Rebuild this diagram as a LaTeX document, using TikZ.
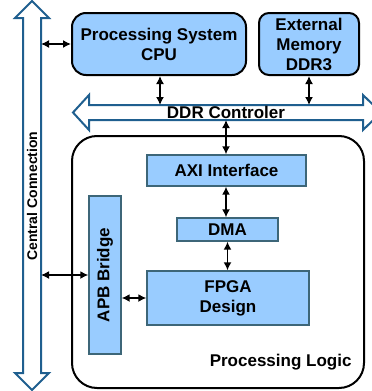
\documentclass[tikz,border=0pt]{standalone}
\usepackage{fontspec}
\setmainfont{Liberation Sans}
\usepackage{xcolor}
\usetikzlibrary{arrows.meta}
\definecolor{boxblue}{HTML}{99CCFF}
\definecolor{busblue}{HTML}{1F5F8F}
\definecolor{edgegrey}{HTML}{3D6678}
\begin{document}
\begin{tikzpicture}[
x=1pt, y=-1pt,
font=\fontsize{17}{20}\selectfont\bfseries,
rbox/.style={draw, line width=2pt, fill=boxblue, rounded corners=14pt, align=center, inner sep=0pt},
ibox/.style={draw=edgegrey, line width=1.4pt, fill=boxblue, align=center, inner sep=0pt},
bus/.style={draw=busblue, line width=2pt, fill=white, line join=miter},
link/.style={{Latex[length=8pt,width=8pt]}-{Latex[length=8pt,width=8pt]}, line width=1.5pt}
]
\clip (0,0) rectangle (372,391);

\draw[bus] (32,1) -- (49,18) -- (41,18) -- (41,373) -- (49,373) -- (32,390)
  -- (15,373) -- (23,373) -- (23,18) -- (15,18) -- cycle;
\coordinate (cenE) at (41,0);
\node[rotate=90, font=\fontsize{14}{16}\selectfont\bfseries] (cen) at (32,196) {Central Connection};

\draw[bus] (73,112.5) -- (89,95) -- (89,105) -- (363,105) -- (363,95) -- (381,112.5)
  -- (363,130) -- (363,120) -- (89,120) -- (89,130) -- cycle;
\coordinate (ddrN) at (160,105);
\coordinate (ddrS) at (226,120);
\node (ddr) at (226,112.5) {DDR Controler};

\node[rbox, minimum width=174pt, minimum height=62pt] (cpu) at (159,44) {Processing System\\CPU};
\node[rbox, rounded corners=10pt, minimum width=100pt, minimum height=62pt] (mem) at (309,44) {External\\Memory\\DDR3};

\draw[line width=2pt, rounded corners=25pt] (72,136) rectangle (364,388);
\node[anchor=east] (pl) at (355,362) {Processing Logic};

\node[ibox, minimum width=159pt, minimum height=31pt] (axi) at (226.5,170.5) {AXI Interface};
\node[ibox, minimum width=101pt, minimum height=23pt] (dma) at (227.5,229.5) {DMA};
\node[ibox, minimum width=162pt, minimum height=54pt] (fpga) at (228,298) {FPGA\\Design};
\node[ibox, minimum width=32pt, minimum height=158pt] (apb) at (105,275) {};
\node[rotate=90] (apbtext) at (apb) {APB Bridge};

\draw[link] (cenE |- cpu.west) -- (cpu.west);
\draw[link] (ddrN |- cpu.south) -- (ddrN);
\draw[link] (mem.south) -- (mem.south |- ddrN);
\draw[link] (ddrS) -- (ddrS |- axi.north);
\draw[link] (ddrS |- axi.south) -- (ddrS |- dma.north);
\draw[link] (dma.south) -- (dma.south |- fpga.north);
\draw[link] (cenE |- apb.west) -- (apb.west);
\draw[link] (apb.east |- fpga.west) -- (fpga.west);

\end{tikzpicture}
\end{document}
